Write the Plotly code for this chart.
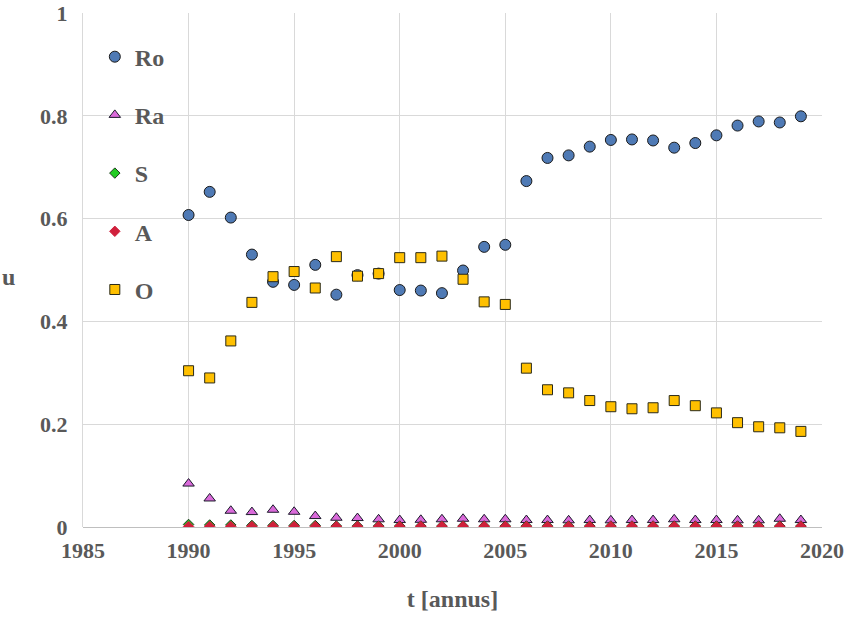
import plotly.graph_objects as go

years = list(range(1990, 2020))

ro = [0.607, 0.652, 0.602, 0.530, 0.477, 0.471, 0.510, 0.452, 0.490, 0.493,
      0.461, 0.460, 0.455, 0.499, 0.545, 0.549, 0.673, 0.718, 0.723, 0.740,
      0.753, 0.754, 0.752, 0.738, 0.747, 0.762, 0.781, 0.789, 0.787, 0.799]

ra = [0.0845, 0.0555, 0.0316, 0.029, 0.0335, 0.0296, 0.0213, 0.018, 0.0174, 0.0149,
      0.0135, 0.014, 0.015, 0.016, 0.015, 0.015, 0.0135, 0.0135, 0.013, 0.0135,
      0.013, 0.0135, 0.0135, 0.015, 0.0135, 0.0135, 0.013, 0.013, 0.016, 0.0135]

s = [0.005, 0.004, 0.004, 0.003, 0.003, 0.003, 0.003, 0.002, 0.002, 0.002,
     0.002, 0.002, 0.002, 0.002, 0.002, 0.002, 0.002, 0.002, 0.002, 0.002,
     0.002, 0.002, 0.002, 0.002, 0.002, 0.002, 0.002, 0.002, 0.002, 0.002]

a = [0.001] * 30

o = [0.304, 0.290, 0.362, 0.437, 0.487, 0.497, 0.465, 0.526, 0.488, 0.493,
     0.524, 0.524, 0.527, 0.482, 0.438, 0.433, 0.309, 0.267, 0.261, 0.246,
     0.234, 0.230, 0.232, 0.246, 0.236, 0.222, 0.203, 0.195, 0.193, 0.186]

y_ticks = [0, 0.2, 0.4, 0.6, 0.8, 1]
y_ticktext = ["0", "0.2", "0.4", "0.6", "0.8", "1"]

series = [
    ("Ro", ro, "circle", 11, "#4F7AB5", "#1a1a1a"),
    ("Ra", ra, "triangle-up", 10, "#DA6ADA", "#1a1a2a"),
    ("S", s, "diamond", 8, "#22CC22", "#1a3a1a"),
    ("A", a, "diamond", 8, "#D0203C", "#D0203C"),
    ("O", o, "square", 10, "#FFC000", "#2a2a1a"),
]

fig = go.Figure()
for i, (name, vals, sym, size, fill, line) in enumerate(series):
    fig.add_trace(go.Scatter(
        x=years, y=vals, mode="markers", name=name, legendgroup=f"g{i}",
        marker=dict(symbol=sym, size=size, color=fill,
                    line=dict(color=line, width=1)),
    ))

font_family = "Liberation Serif"
gray = "#595959"

fig.update_layout(
    width=848, height=619,
    margin=dict(l=83, r=26, t=13, b=92),
    paper_bgcolor="white", plot_bgcolor="white",
    font=dict(family=font_family, color=gray, size=22),
    showlegend=True,
    legend=dict(x=0.016, y=0.958, xanchor="left", yanchor="top",
                bgcolor="rgba(0,0,0,0)", tracegroupgap=24,
                font=dict(family=font_family, size=24, color=gray,
                          weight="bold"),
                itemsizing="trace"),
    xaxis=dict(range=[1985, 2020], dtick=5, tick0=1985,
               automargin=False,
               showgrid=True, gridcolor="#D9D9D9", gridwidth=1,
               showline=False, zeroline=False,
               tickfont=dict(family=font_family, size=22, color=gray,
                             weight="bold"),
               ticks="", ticklen=0, ticklabelstandoff=8,
               ticklabeloverflow="allow",
               title=dict(text="t [annus]", standoff=28,
                          font=dict(family=font_family, size=24, color=gray,
                                    weight="bold"))),
    yaxis=dict(range=[0, 1], tickvals=y_ticks, ticktext=y_ticktext,
               automargin=False,
               showgrid=True, gridcolor="#D9D9D9", gridwidth=1,
               showline=True, linecolor="#D9D9D9", linewidth=1,
               zeroline=True, zerolinecolor="#BFBFBF", zerolinewidth=1,
               tickfont=dict(family=font_family, size=22, color=gray,
                             weight="bold"),
               ticklabeloverflow="allow",
               ticks="outside", ticklen=10, tickcolor="rgba(0,0,0,0)"),
)

fig.add_annotation(text="u", xref="paper", yref="paper",
                   x=-83/739, y=0.487, xanchor="left", yanchor="middle",
                   showarrow=False,
                   font=dict(family=font_family, size=24, color=gray,
                             weight="bold"))

fig.write_html("out.html", config={"displayModeBar": False},
               post_script="document.body.style.margin='0';")
